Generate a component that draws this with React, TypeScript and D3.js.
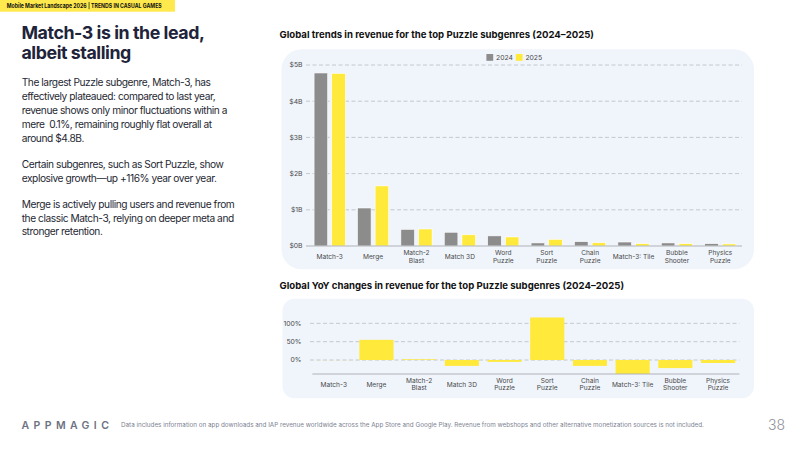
import React from "react";
import * as d3 from "d3";

const categories = ["Match-3", "Merge", "Match-2 Blast", "Match 3D", "Word Puzzle", "Sort Puzzle", "Chain Puzzle", "Match-3: Tile", "Bubble Shooter", "Physics Puzzle"];
const categoryLines = [["Match-3"], ["Merge"], ["Match-2", "Blast"], ["Match 3D"], ["Word", "Puzzle"], ["Sort", "Puzzle"], ["Chain", "Puzzle"], ["Match-3: Tile"], ["Bubble", "Shooter"], ["Physics", "Puzzle"]];
const seriesNames = ["2024", "2025"];
const revenue2024 = [4.78, 1.05, 0.46, 0.38, 0.28, 0.085, 0.12, 0.11, 0.085, 0.065];
const revenue2025 = [4.77, 1.66, 0.47, 0.31, 0.25, 0.185, 0.09, 0.065, 0.065, 0.058];
const yoyChange = [-0.2, 55, 2, -16, -5, 116, -16, -38, -22, -8];
const revenueTicks = [0, 1, 2, 3, 4, 5];
const revenueTickLabels = ["$0B", "$1B", "$2B", "$3B", "$4B", "$5B"];
const yoyTicks = [0, 50, 100];
const yoyTickLabels = ["0%", "50%", "100%"];

const headingLines = ["Match-3 is in the lead,", "albeit stalling"];
const para1 = ["The largest Puzzle subgenre, Match-3, has", "effectively plateaued: compared to last year,", "revenue shows only minor fluctuations within a", "mere  0.1%, remaining roughly flat overall at", "around $4.8B."];
const para2 = ["Certain subgenres, such as Sort Puzzle, show", "explosive growth\u2014up +116% year over year."];
const para3 = ["Merge is actively pulling users and revenue from", "the classic Match-3, relying on deeper meta and", "stronger retention."];

const GRAY = "#8c8c8c";
const YELLOW = "#ffe93b";
const PANEL = "#f0f5fc";
const GRID = "#b9bcc2";
const LABEL = "#4a4a4a";
const FONT = "Inter, 'Noto Sans', sans-serif";

export default function App() {
  // top chart scales
  const x0 = d3.scaleBand<string>().domain(categories).range([308, 742]).paddingInner(0.28).paddingOuter(0.14);
  const x1 = d3.scaleBand<string>().domain(seriesNames).range([0, x0.bandwidth()]).paddingInner(0.229);
  const y = d3.scaleLinear().domain([0, 5]).range([246, 65]);
  const series = [revenue2024, revenue2025];
  const colors = d3.scaleOrdinal<string, string>().domain(seriesNames).range([GRAY, YELLOW]);

  // yoy chart scales
  const xb = d3.scaleBand<string>().domain(categories).range([312.4, 739.4]).paddingInner(0.2).paddingOuter(0.1);
  const yb = d3.scaleLinear().domain([-40, 120]).range([374.7, 316]);

  const bodyStyle = { fontFamily: FONT, fontSize: 10.2, fill: "#262833", letterSpacing: -0.44, whiteSpace: "pre" } as const;

  return (
    <svg width={800} height={450} style={{ position: "absolute", left: 0, top: 0, background: "#fff" }}>
      {/* header */}
      <rect x={0} y={0} width={175} height={11.7} fill="#ffe94d" />
      <text x={6.7} y={8.3} textLength={155} lengthAdjust="spacingAndGlyphs" style={{ fontFamily: FONT, fontSize: 6, fontWeight: 700, fill: "#111" }}>
        Mobile Market Landscape 2026 | TRENDS IN CASUAL GAMES
      </text>

      {/* left text */}
      <text style={{ fontFamily: FONT, fontSize: 17.8, fontWeight: 700, fill: "#20233a", letterSpacing: -0.45 }}>
        {headingLines.map((l, i) => (
          <tspan key={i} x={21.5} y={39.3 + i * 20}>{l}</tspan>
        ))}
      </text>
      <text style={bodyStyle}>
        {para1.map((l, i) => (
          <tspan key={i} x={21.7} y={86.3 + i * 13.9}>{l}</tspan>
        ))}
      </text>
      <text style={bodyStyle}>
        {para2.map((l, i) => (
          <tspan key={i} x={21.7} y={167.9 + i * 13.9}>{l}</tspan>
        ))}
      </text>
      <text style={bodyStyle}>
        {para3.map((l, i) => (
          <tspan key={i} x={21.7} y={207.6 + i * 13.9}>{l}</tspan>
        ))}
      </text>

      {/* top chart */}
      <text x={279.5} y={37.8} style={{ fontFamily: FONT, fontSize: 9.6, fontWeight: 700, fill: "#111" }}>
        Global trends in revenue for the top Puzzle subgenres (2024–2025)
      </text>
      <rect x={281.5} y={49.3} width={472.5} height={220} rx={20} fill={PANEL} />
      {/* legend */}
      {seriesNames.map((s, i) => (
        <g key={s} transform={`translate(${486.4 + i * 29.4},54)`}>
          <rect width={6.8} height={6.8} fill={colors(s)} />
          <text x={9.6} y={6} style={{ fontFamily: FONT, fontSize: 6.8, fill: LABEL }}>{s}</text>
        </g>
      ))}
      {revenueTicks.filter((t) => t > 0).map((t) => (
        <line key={t} x1={306} x2={742} y1={y(t)} y2={y(t)} stroke={GRID} strokeWidth={0.8} strokeDasharray="4 2.5" />
      ))}
      {revenueTicks.map((t, i) => (
        <text key={t} x={302.5} y={y(t) + 2.4} textAnchor="end" style={{ fontFamily: FONT, fontSize: 6.8, fill: LABEL }}>
          {revenueTickLabels[i]}
        </text>
      ))}
      {categories.map((c, ci) => (
        <g key={c} transform={`translate(${x0(c)},0)`}>
          {seriesNames.map((s, si) => (
            <rect key={s} x={x1(s)} y={y(series[si][ci])} width={x1.bandwidth()} height={y(0) - y(series[si][ci])}
              fill={colors(s)} stroke="#ffffff" strokeWidth={0.6} />
          ))}
        </g>
      ))}
      <line x1={306} x2={742} y1={y(0)} y2={y(0)} stroke="#a8abb0" strokeWidth={0.9} />
      {categories.map((c, ci) => {
        const lines = categoryLines[ci];
        const cx = (x0(c) as number) + x0.bandwidth() / 2;
        const base = lines.length === 1 ? 259.2 : 254.8;
        return (
          <text key={c} textAnchor="middle" style={{ fontFamily: FONT, fontSize: 6.6, fill: LABEL }}>
            {lines.map((l, li) => (
              <tspan key={li} x={cx} y={base + li * 8}>{l}</tspan>
            ))}
          </text>
        );
      })}

      {/* yoy chart */}
      <text x={279.5} y={288.8} style={{ fontFamily: FONT, fontSize: 9.6, fontWeight: 700, fill: "#111" }}>
        Global YoY changes in revenue for the top Puzzle subgenres (2024–2025)
      </text>
      <rect x={282.5} y={298.7} width={471.5} height={99.5} rx={12} fill={PANEL} />
      {yoyTicks.map((t) => (
        <line key={t} x1={310} x2={739.4} y1={yb(t)} y2={yb(t)} stroke={GRID} strokeWidth={0.8} strokeDasharray="4 2.5" />
      ))}
      {yoyTicks.map((t, i) => (
        <text key={t} x={301.5} y={yb(t) + 2.4} textAnchor="end" style={{ fontFamily: FONT, fontSize: 6.8, fill: LABEL }}>
          {yoyTickLabels[i]}
        </text>
      ))}
      {categories.map((c, ci) => {
        const v = yoyChange[ci];
        return (
          <rect key={c} x={xb(c)} y={yb(Math.max(0, v))} width={xb.bandwidth()} height={Math.abs(yb(v) - yb(0))} fill={YELLOW} />
        );
      })}
      <line x1={312.4} x2={739.4} y1={374} y2={374} stroke="#a8abb0" strokeWidth={0.9} />
      {categories.map((c, ci) => {
        const lines = categoryLines[ci];
        const cx = (xb(c) as number) + xb.bandwidth() / 2;
        const base = lines.length === 1 ? 386.5 : 382.8;
        return (
          <text key={c} textAnchor="middle" style={{ fontFamily: FONT, fontSize: 6.6, fill: LABEL }}>
            {lines.map((l, li) => (
              <tspan key={li} x={cx} y={base + li * 7.6}>{l}</tspan>
            ))}
          </text>
        );
      })}

      {/* footer */}
      <text x={21.5} y={429} style={{ fontFamily: FONT, fontSize: 10.5, fontWeight: 600, fill: "#6d7282", letterSpacing: 4.4 }}>
        APPMAGIC
      </text>
      <text x={121} y={427.3} style={{ fontFamily: FONT, fontSize: 6.3, fill: "#7d8292" }}>
        Data includes information on app downloads and IAP revenue worldwide across the App Store and Google Play. Revenue from webshops and other alternative monetization sources is not included.
      </text>
      <text x={785} y={429.5} textAnchor="end" style={{ fontFamily: FONT, fontSize: 14, fontWeight: 300, fill: "#8a8e99" }}>
        38
      </text>
    </svg>
  );
}
